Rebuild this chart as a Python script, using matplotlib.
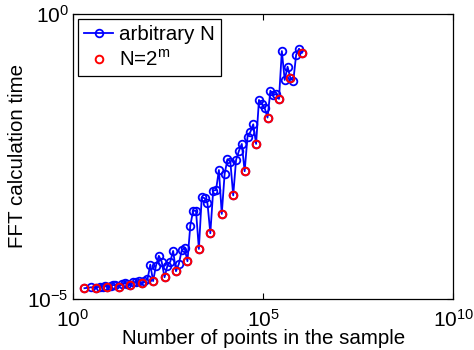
import matplotlib
matplotlib.use("Agg")
import matplotlib.pyplot as plt
from matplotlib.ticker import FixedLocator, NullLocator

plt.rcParams['font.family'] = ['Liberation Sans', 'DejaVu Sans']
plt.rcParams['mathtext.fontset'] = 'custom'
plt.rcParams['mathtext.rm'] = 'Liberation Sans'

# arbitrary N (blue)
blue_n = [2, 3, 4, 5, 6, 7, 8, 10, 11, 13, 16, 19, 23, 27, 32, 38, 45, 54, 64,
          76, 91, 108, 128, 152, 181, 215, 256, 304, 362, 431, 512,
          609, 724, 861, 1024, 1218, 1448, 1722, 2048, 2435, 2896, 3444, 4096,
          4871, 5793, 6889, 8192, 9742, 11585, 13777, 16384,
          19484, 23170, 27554, 32768, 38968, 46341, 55109, 65536,
          77936, 92682, 110218, 131072, 155872, 185364, 220436, 262144,
          311744, 370728, 440872, 524288, 623487, 741455, 881744, 1048576]
blue_t = [1.54e-5, 1.60e-5, 1.56e-5, 1.65e-5, 1.65e-5, 1.70e-5, 1.60e-5,
          1.70e-5, 1.75e-5, 1.75e-5, 1.60e-5, 1.85e-5, 1.90e-5, 1.85e-5, 1.74e-5,
          2.00e-5, 1.95e-5, 2.10e-5, 1.88e-5,
          2.10e-5, 2.20e-5, 4.00e-5, 2.05e-5, 3.80e-5, 5.70e-5, 4.50e-5, 2.40e-5,
          3.80e-5, 4.50e-5, 6.95e-5, 3.06e-5,
          4.10e-5, 7.10e-5, 7.85e-5, 4.58e-5, 1.93e-4, 3.54e-4, 3.50e-4, 7.53e-5,
          6.08e-4, 5.85e-4, 4.78e-4, 1.42e-4,
          7.94e-4, 8.17e-4, 1.83e-3, 3.10e-4, 1.56e-3, 2.82e-3, 2.56e-3, 6.55e-4,
          2.75e-3, 3.95e-3, 5.24e-3, 1.74e-3, 7.03e-3, 8.51e-3, 1.16e-2, 5.24e-3,
          3.10e-2, 2.64e-2, 2.24e-2, 1.52e-2, 4.51e-2, 3.75e-2, 3.95e-2, 3.23e-2,
          0.224, 6.95e-2, 0.119, 7.45e-2, 6.68e-2, 0.193, 0.246, 0.209]

# N = 2^m (red)
red_n = [2, 4, 8, 16, 32, 64, 128, 256, 512, 1024, 2048, 4096, 8192, 16384,
         32768, 65536, 131072, 262144, 524288, 1048576]
red_t = [1.54e-5, 1.56e-5, 1.60e-5, 1.60e-5, 1.74e-5, 1.88e-5, 2.05e-5,
         2.40e-5, 3.06e-5, 4.58e-5, 7.53e-5, 1.42e-4, 3.10e-4, 6.55e-4,
         1.74e-3, 5.24e-3, 1.52e-2, 3.23e-2, 7.45e-2, 0.209]

xticks = [1e0, 1e5, 1e10]
yticks = [1e-5, 1e0]

fig = plt.figure(figsize=(4.74, 3.5), dpi=100)
ax = fig.add_axes([0.154, 0.146, 0.802, 0.814])

ax.plot(blue_n, blue_t, '-o', color='#0000ff', mfc='none', mec='#0000ff',
        ms=5.5, mew=1.3, lw=1.3, label='arbitrary N')
ax.plot(red_n, red_t, 'o', color='#ff0000', mfc='none', mec='#ff0000',
        ms=5.5, mew=1.4, label=r'N=2$^{\mathregular{m}}$')

ax.set_xscale('log')
ax.set_yscale('log')
ax.set_xlim(1e0, 1e10)
ax.set_ylim(1e-5, 1e0)
ax.xaxis.set_major_locator(FixedLocator(xticks))
ax.yaxis.set_major_locator(FixedLocator(yticks))
ax.xaxis.set_minor_locator(NullLocator())
ax.yaxis.set_minor_locator(NullLocator())
ax.tick_params(direction='in', length=4, width=0.8, top=True, right=True,
               labelsize=15)
ax.tick_params(axis='x', pad=7)
ax.tick_params(axis='y', pad=3)
for s in ax.spines.values():
    s.set_linewidth(0.9)

ax.set_xlabel('Number of points in the sample', fontsize=14.8, labelpad=-1)
ax.set_ylabel('FFT calculation time', fontsize=14.8, labelpad=0)

leg = ax.legend(loc='upper left', fontsize=14.8, handlelength=1.4,
                handletextpad=0.3, borderaxespad=0.25, borderpad=0.3,
                labelspacing=0.25, fancybox=False, framealpha=1)
leg.get_frame().set_edgecolor('black')
leg.get_frame().set_linewidth(0.9)

fig.savefig('out.png', dpi=100)
